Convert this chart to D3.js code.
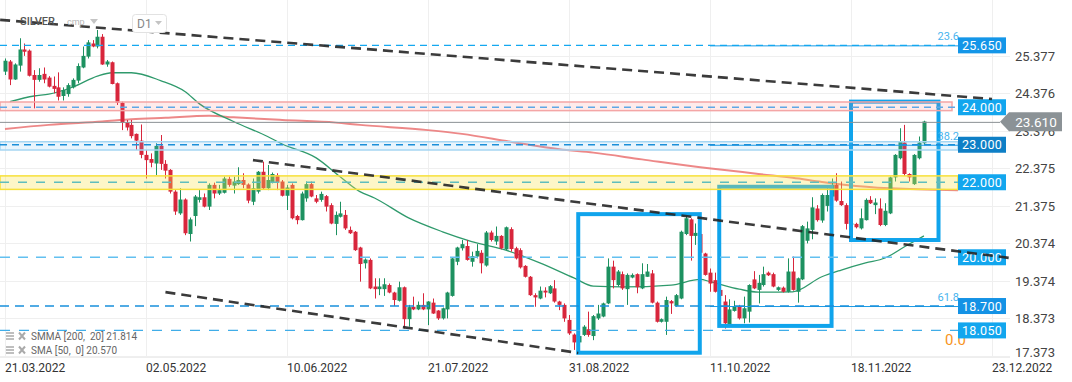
<!DOCTYPE html>
<html><head><meta charset="utf-8">
<script src="https://cdn.jsdelivr.net/npm/d3@7"></script>
<style>body{margin:0;background:#fff}svg{display:block;font-family:Roboto,"Open Sans",sans-serif}.lg text{white-space:pre}</style>
</head><body><svg id="c" width="1072" height="382"></svg>
<script>
// ---- data ----
const opens=[24.95,25.22,24.74,25.11,25.54,25.51,24.86,24.73,24.89,24.79,24.57,24.53,24.30,24.35,24.53,24.71,25.06,25.35,25.70,25.62,
25.88,25.14,25.20,24.64,24.12,23.59,23.53,23.29,23.11,22.73,22.62,22.50,22.97,22.49,22.33,21.75,21.17,21.54,20.62,21.10,
21.53,21.60,21.35,21.93,21.70,21.72,22.09,21.91,21.95,22.06,21.94,21.48,21.75,22.28,21.84,21.99,22.19,22.02,21.64,21.93,
21.10,20.99,21.57,21.95,21.57,21.53,21.63,21.39,20.89,21.08,21.13,20.73,20.68,20.26,19.84,19.93,19.22,19.15,19.15,19.26,
19.06,18.84,19.20,18.35,18.68,18.61,18.73,18.61,18.79,18.58,18.37,18.61,18.97,19.88,20.24,20.30,19.88,20.02,20.12,19.78,
20.66,20.42,20.57,20.21,20.75,20.24,20.19,19.77,19.48,18.99,18.90,19.11,19.04,19.17,18.82,18.73,18.33,17.94,17.73,17.93,
18.08,17.90,18.37,18.42,18.77,19.75,19.26,19.55,19.15,19.46,19.55,19.17,19.48,19.57,18.79,18.28,18.28,18.83,18.70,18.90,
20.62,21.01,20.57,20.62,20.10,19.59,19.39,19.13,18.82,18.19,18.57,18.70,18.37,18.55,19.41,19.13,19.26,19.59,19.55,19.13,
19.19,19.08,19.62,19.08,19.41,20.44,20.73,21.30,20.98,21.37,21.62,21.93,21.50,21.39,20.89,20.89,20.77,20.99,21.53,21.39,
21.30,20.86,21.17,22.13,22.64,23.06,22.22,21.95,22.64,23.04];
const highs=[25.30,25.26,25.17,25.84,25.70,25.54,24.99,25.04,25.06,24.83,24.82,24.93,24.53,24.64,24.77,25.17,25.62,25.79,25.79,26.06,
25.95,25.26,25.22,24.66,24.15,23.66,23.66,23.30,23.54,22.86,22.77,23.04,23.26,22.59,22.35,21.79,21.84,21.57,21.06,21.66,
21.79,21.70,21.97,21.99,21.93,22.15,22.15,22.15,22.40,22.24,21.97,22.10,22.30,22.55,22.46,22.26,22.24,22.06,21.93,21.97,
21.13,21.75,22.02,22.02,21.66,21.75,21.66,21.44,21.22,21.48,21.26,20.82,20.70,20.28,19.97,19.97,19.44,19.44,19.44,19.30,
19.08,19.35,19.22,18.73,18.95,18.82,19.04,18.83,18.90,18.59,18.66,19.08,20.00,20.28,20.46,20.46,20.15,20.35,20.19,20.70,
20.71,20.82,20.59,20.82,20.80,20.28,20.24,19.79,19.50,19.04,19.22,19.20,19.26,19.39,18.84,18.77,18.46,17.97,17.97,18.19,
18.55,18.46,18.73,18.79,19.97,19.91,19.66,19.62,19.57,19.57,19.57,19.84,19.82,19.66,18.82,18.37,18.95,18.86,19.02,20.71,
21.17,21.04,20.90,20.70,20.12,19.70,19.59,19.23,18.99,18.88,18.84,18.73,18.95,19.28,19.63,19.53,19.75,19.62,19.59,19.22,
19.22,19.97,20.02,19.46,20.86,20.95,21.60,21.39,21.70,21.88,22.10,22.24,22.02,21.44,21.00,20.92,21.30,21.57,21.63,21.57,
21.57,21.44,22.15,22.75,23.44,23.53,22.24,22.75,23.22,23.64];
const lows=[24.86,24.59,24.73,24.95,25.37,24.82,23.97,24.68,24.64,24.53,24.37,24.18,24.18,24.28,24.50,24.64,25.04,25.30,25.60,25.57,
25.13,25.08,24.61,24.06,23.39,23.38,23.17,22.86,22.64,22.10,22.40,22.19,22.33,22.10,21.70,21.13,21.13,20.59,20.42,20.83,
21.46,21.33,21.26,21.57,21.66,21.70,21.88,21.70,21.93,21.84,21.44,21.39,21.70,21.81,21.79,21.97,21.79,21.62,21.26,21.01,
20.88,20.98,21.48,21.60,21.44,21.48,21.22,20.88,20.59,21.06,20.73,20.62,20.17,19.35,19.70,19.15,18.90,18.99,18.97,19.04,
18.70,18.82,18.10,18.15,18.59,18.59,18.59,18.19,18.49,18.33,18.34,18.37,18.95,19.79,20.18,19.91,19.75,19.97,19.57,19.75,
20.42,20.33,20.21,20.19,20.15,19.94,19.70,19.46,18.97,18.68,18.88,18.93,19.02,18.79,18.59,18.28,17.93,17.53,17.60,17.90,
17.88,17.79,18.33,18.40,18.75,19.17,19.22,19.13,18.73,19.44,19.04,19.15,19.48,18.77,18.26,18.26,17.93,18.49,18.68,18.88,
20.59,19.91,20.33,20.05,19.51,19.08,19.06,18.93,18.10,18.17,18.55,18.34,18.24,18.26,19.15,18.77,19.22,19.50,19.20,19.10,
19.06,19.06,19.11,18.79,19.39,20.37,20.48,20.95,20.92,21.22,21.57,21.48,21.37,20.74,20.75,20.77,20.74,20.98,21.42,21.15,
20.83,20.83,21.15,22.02,22.61,22.17,22.02,21.93,22.61,22.99];
const closes=[25.24,24.74,25.14,25.54,25.48,24.84,24.73,24.86,24.74,24.55,24.49,24.28,24.46,24.59,24.73,25.10,25.37,25.73,25.62,25.88,
25.14,25.22,24.62,24.12,23.59,23.46,23.23,23.11,22.73,22.59,22.52,22.97,22.49,22.31,21.75,21.22,21.54,20.64,21.01,21.62,
21.60,21.35,21.93,21.70,21.79,22.10,21.93,22.02,22.06,21.93,21.51,21.84,22.28,21.84,22.06,22.22,21.99,21.64,21.86,21.04,
20.99,21.70,21.95,21.62,21.48,21.69,21.35,20.90,21.13,21.17,20.77,20.64,20.19,19.82,19.94,19.17,19.15,19.22,19.28,19.06,
18.86,19.20,18.35,18.67,18.61,18.73,18.61,18.82,18.50,18.37,18.64,19.06,19.97,20.26,20.35,19.93,20.03,20.17,19.84,20.66,
20.46,20.57,20.24,20.80,20.22,19.97,19.73,19.48,18.99,18.93,19.11,19.06,19.23,18.82,18.73,18.37,17.97,17.73,17.90,18.15,
17.93,18.43,18.50,18.77,19.75,19.39,19.62,19.17,19.53,19.53,19.20,19.55,19.62,18.79,18.28,18.35,18.86,18.77,18.99,20.68,
21.04,20.57,20.65,20.12,19.53,19.30,19.08,18.97,18.24,18.61,18.68,18.37,18.64,19.26,19.17,19.32,19.55,19.52,19.22,19.20,
19.08,19.62,19.13,19.44,20.83,20.77,21.33,20.99,21.66,21.66,21.93,21.51,21.39,20.89,20.90,20.80,21.04,21.53,21.44,21.46,
20.86,21.24,22.13,22.73,23.08,22.22,22.13,22.73,23.06,23.62];

const smaIdx=[1,6,9,14,19,22,26,32,37,40,47,54,57,64,69,73,76,83,90,96,103,110,117,121,127,137,143,145,151,155,162,168,172,177,181,185,189];
const smaVal=[24.15,24.30,24.35,24.54,24.83,24.92,24.92,24.71,24.42,24.09,23.62,23.22,23.02,22.65,22.14,21.75,21.58,21.05,20.68,20.42,20.19,19.85,19.45,19.23,19.21,19.26,19.41,19.35,19.15,19.07,19.08,19.48,19.66,19.85,19.98,20.28,20.57];
const smmaIdx=[0,9,20,26,33,42,47,57,68,73,87,94,104,114,121,131,143,148,155,162,168,173,182,196];
const smmaVal=[23.42,23.53,23.62,23.68,23.72,23.77,23.73,23.66,23.59,23.53,23.39,23.29,23.08,22.88,22.79,22.61,22.40,22.33,22.22,22.12,22.01,21.93,21.84,21.79];

const xTickIdx=[0,29,58,87,116,145,174,203];
const xTickLabels=["21.03.2022","02.05.2022","10.06.2022","21.07.2022","31.08.2022","11.10.2022","18.11.2022","23.12.2022"];
const yTicks=[17.373,18.373,19.374,20.374,21.375,22.375,23.376,24.376,25.377];
const yTickLabels=["17.373","18.373","19.374","20.374","21.375","22.375","23.376","24.376","25.377"];

const levels=[25.65,24.0,23.0,22.0,20.0,18.7,18.05];
const levelLabels=["25.650","24.000","23.000","22.000","20.000","18.700","18.050"];
const zoneLow=[23.91,22.86,21.81];
const zoneHigh=[24.14,23.08,22.17];
const fibLevels=[25.65,23.0,18.7];
const fibLabels=["23.6","38.2","61.8"];
const fibZeroLabel="0.0";
const trendStartIdx=[-1,51,33];
const trendStartVal=[26.33,22.59,19.07];
const trendEndIdx=[203,206.7,117.9];
const trendEndVal=[24.22,19.98,17.45];
const boxIdx0=[117.9,146.9,174];
const boxIdx1=[142.9,170,192];
const boxTop=[21.15,21.88,24.15];
const boxBottom=[17.455,18.17,20.46];
const lastPrice=23.61;
const legendLines=["SMMA [200,  20] 21.814","SMA [50,  0] 20.570"];

// ---- styles ----
const levelStroke=["#14a8f0","#5ea8e6","#1b8fd9","#5fbdbd","#62c0f0","#1990dc","#40ade8"];
const levelDash=["7,5","7,5","7,5","9,9","10,8","9,6","10,9"];
const levelBox=["#1496e8","#12a6ee","#0e7fc6","#12a6ee","#12a6ee","#1492e5","#12a6ee"];
const zoneFill=["rgba(250,120,120,0.15)","rgba(120,190,240,0.16)","rgba(250,228,80,0.32)"];
const zoneStroke=["#f4a6a6","#a6d6f2","#f7e03a"];

const svg=d3.select("#c");
const x=d3.scaleLinear().domain([0,203]).range([5,992]);
const y=d3.scaleLinear().domain([17.373,25.377]).range([355.8,55.6]);
const plotR=1010, lvlR=958, axisY=357;

// grid
const g=svg.append("g");
g.selectAll("line.h").data(yTicks).join("line").attr("x1",0).attr("x2",plotR)
 .attr("y1",d=>Math.round(y(d))+0.5).attr("y2",d=>Math.round(y(d))+0.5).attr("stroke","#efefef");
g.selectAll("line.v").data(xTickIdx).join("line").attr("y1",0).attr("y2",axisY)
 .attr("x1",d=>Math.round(x(d))+0.5).attr("x2",d=>Math.round(x(d))+0.5).attr("stroke","#efefef");
g.append("line").attr("x1",0).attr("x2",plotR).attr("y1",axisY+0.5).attr("y2",axisY+0.5).attr("stroke","#eeeeee");

// moving averages
const lineGen=d3.line().x(d=>x(d[0])).y(d=>y(d[1])).curve(d3.curveMonotoneX);
svg.append("path").attr("d",lineGen(smmaIdx.map((d,i)=>[d,smmaVal[i]])))
 .attr("fill","none").attr("stroke","#ea7373").attr("stroke-width",2).attr("opacity",0.85);
svg.append("path").attr("d",lineGen(smaIdx.map((d,i)=>[d,smaVal[i]])))
 .attr("fill","none").attr("stroke","#2f9a6c").attr("stroke-width",1.3);

// candles
const bars=opens.map((o,i)=>({i,o,h:highs[i],l:lows[i],c:closes[i]}));
const cg=svg.append("g");
const col=d=>d.c>=d.o?"#1d9160":"#d8263c";
cg.selectAll("line").data(bars).join("line")
 .attr("x1",d=>Math.round(x(d.i))+0.5).attr("x2",d=>Math.round(x(d.i))+0.5)
 .attr("y1",d=>y(d.h)).attr("y2",d=>y(d.l)).attr("stroke",col).attr("stroke-width",1);
cg.selectAll("rect").data(bars).join("rect")
 .attr("x",d=>Math.round(x(d.i))-1.5).attr("width",4)
 .attr("y",d=>y(Math.max(d.o,d.c))).attr("height",d=>Math.max(1,Math.abs(y(d.o)-y(d.c))))
 .attr("fill",col);

// blue boxes
svg.selectAll("rect.box").data(boxIdx0).join("rect").attr("class","box")
 .attr("x",(d,i)=>x(d)).attr("width",(d,i)=>x(boxIdx1[i])-x(d))
 .attr("y",(d,i)=>y(boxTop[i])).attr("height",(d,i)=>y(boxBottom[i])-y(boxTop[i]))
 .attr("fill","none").attr("stroke","#10a4ec").attr("stroke-width",4);

// zones
svg.selectAll("rect.zone").data(zoneLow).join("rect").attr("class","zone")
 .attr("x",0).attr("width",(d,i)=>i==0?952:lvlR).attr("y",(d,i)=>y(zoneHigh[i])).attr("height",(d,i)=>y(d)-y(zoneHigh[i]))
 .attr("fill",(d,i)=>zoneFill[i]).attr("stroke",(d,i)=>zoneStroke[i]).attr("stroke-width",1.5);

// fib lines
svg.selectAll("line.fib").data(fibLevels).join("line").attr("class","fib")
 .attr("x1",x(145)).attr("x2",lvlR).attr("y1",d=>y(d)+0.5).attr("y2",d=>y(d)+0.5)
 .attr("stroke","#1a9be6").attr("stroke-width",1);
svg.selectAll("text.fib").data(fibLevels).join("text").attr("class","fib")
 .attr("x",959).attr("y",d=>y(d)-5).attr("text-anchor","end").attr("font-size",11).attr("fill","#48b4ee")
 .text((d,i)=>fibLabels[i]);
svg.append("text").attr("x",945).attr("y",345).attr("font-size",15).attr("fill","#f7941d").text(fibZeroLabel);

// level dashed lines
svg.selectAll("line.lvl").data(levels).join("line").attr("class","lvl")
 .attr("x1",0).attr("x2",lvlR).attr("y1",d=>y(d)).attr("y2",d=>y(d))
 .attr("stroke",(d,i)=>levelStroke[i]).attr("stroke-dasharray",(d,i)=>levelDash[i]).attr("stroke-width",1.4);

// right axis labels
svg.selectAll("text.yt").data(yTicks).join("text").attr("class","yt")
 .attr("x",1015).attr("y",d=>Math.min(y(d),351.5)+5).attr("font-size",13).attr("fill","#444")
 .text((d,i)=>yTickLabels[i]);

// level label boxes
const lb=svg.selectAll("g.lb").data(levels).join("g").attr("class","lb")
 .attr("transform",d=>`translate(958,${y(d)-8})`);
lb.append("rect").attr("width",48).attr("height",16).attr("fill",(d,i)=>levelBox[i]);
lb.append("text").attr("x",24).attr("y",12.5).attr("text-anchor","middle").attr("font-size",12.5)
 .attr("fill","#fff").attr("letter-spacing",0.3).text((d,i)=>levelLabels[i]);

// last price line + label
const ly=y(lastPrice);
svg.append("line").attr("x1",0).attr("x2",1000).attr("y1",ly+0.5).attr("y2",ly+0.5).attr("stroke","#8a9094").attr("stroke-width",1);
svg.append("path").attr("d",`M1000,${ly} L1009,${ly-9.5} L1062,${ly-9.5} L1062,${ly+9.5} L1009,${ly+9.5} Z`).attr("fill","#8b9296");
svg.append("text").attr("x",1036).attr("y",ly+5).attr("text-anchor","middle").attr("font-size",13.5).attr("fill","#fff").text(lastPrice.toFixed(3));

// trend lines
svg.selectAll("line.tr").data(trendStartIdx).join("line").attr("class","tr")
 .attr("x1",d=>x(d)).attr("y1",(d,i)=>y(trendStartVal[i]))
 .attr("x2",(d,i)=>x(trendEndIdx[i])).attr("y2",(d,i)=>y(trendEndVal[i]))
 .attr("stroke","#262626").attr("stroke-width",2.6).attr("stroke-dasharray","10,6").attr("opacity",0.9);

// x axis labels
svg.selectAll("text.xt").data(xTickIdx).join("text").attr("class","xt")
 .attr("x",d=>x(d)).attr("y",372).attr("font-size",12).attr("fill","#333").text((d,i)=>xTickLabels[i]);

// top-left header
svg.append("text").attr("x",20).attr("y",25).attr("font-size",11).attr("fill","#555").attr("font-weight",500).text("SILVER");
svg.append("text").attr("x",67).attr("y",25).attr("font-size",9).attr("fill","#b5b5b5").text("cmp");
svg.append("path").attr("d","M90,19 L98,19 L94,24 Z").attr("fill","#c4c4c4");
svg.append("rect").attr("x",132.5).attr("y",14.5).attr("width",34).attr("height",18).attr("rx",3).attr("fill","#fff").attr("stroke","#e2e2e2");
svg.append("text").attr("x",137).attr("y",28).attr("font-size",12).attr("fill","#888").text("D1");
svg.append("path").attr("d","M155,21 L162,21 L158.5,25 Z").attr("fill","#c4c4c4");

// bottom-left legend
const lg=svg.selectAll("g.lg").data(legendLines).join("g").attr("class","lg")
 .attr("transform",(d,i)=>`translate(0,${336+i*14})`);
lg.each(function(){const s=d3.select(this);
 [-3,0,3].forEach(o=>s.append("line").attr("x1",6).attr("x2",14).attr("y1",o).attr("y2",o).attr("stroke","#aaa").attr("stroke-width",1.5));
 s.append("path").attr("d","M19,-3.5 L25,3.5 M25,-3.5 L19,3.5").attr("stroke","#aaa").attr("stroke-width",2);});
lg.append("text").attr("x",31).attr("y",4).attr("font-size",10).attr("fill","#666").text(d=>d);
</script></body></html>
